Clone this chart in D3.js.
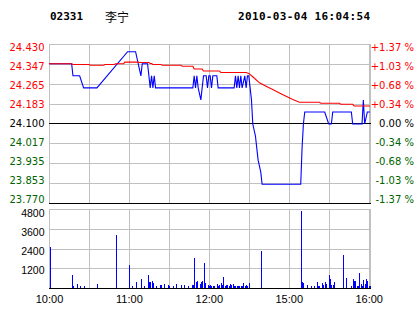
<!DOCTYPE html>
<html>
<head>
<meta charset="utf-8">
<script src="https://cdn.jsdelivr.net/npm/d3@7"></script>
<style>
body { margin:0; background:#fff; }
svg { display:block; }
</style>
</head>
<body>
<svg id="drawing_region"></svg>
<script>
// quote header
const stockCode = "02331";
const stockName = "李宁";
const quoteTime = "2010-03-04 16:04:54";

// axes
const timeLabels = ["10:00", "11:00", "12:00", "15:00", "16:00"];
const priceTicks = [24.430, 24.347, 24.265, 24.183, 24.100, 24.017, 23.935, 23.853, 23.770];
const percentTicks = ["+1.37 %", "+1.03 %", "+0.68 %", "+0.34 %", "0.00 %", "-0.34 %", "-0.68 %", "-1.03 %", "-1.37 %"];
const volumeTicks = [1200, 2400, 3600, 4800];
const prevClose = 24.100;

// minute price (blue)
const priceTimes = ["10:00","10:17","10:18","10:23","10:26","10:36","10:59","11:05","11:09","11:10",
    "11:14","11:16","11:17","11:18","11:19","11:20","11:48","11:49","11:50","11:51",
    "11:52","11:54","11:56","11:58","11:59","12:00","12:01","12:02","12:03","12:06",
    "12:07","12:19","12:20","12:21","12:22","12:23","12:24","12:25","12:27","12:28",
    "12:29","14:30","14:32","14:33","14:35","14:36","14:37","14:39","14:40","15:09",
    "15:10","15:11","15:12","15:27","15:30","15:32","15:33","15:47","15:48","15:55",
    "15:56","15:57","15:59","16:01"];
const prices = [24.35,24.35,24.30,24.30,24.25,24.25,24.40,24.40,24.30,24.35,
    24.35,24.25,24.30,24.25,24.30,24.25,24.25,24.30,24.25,24.30,
    24.25,24.20,24.30,24.30,24.25,24.30,24.30,24.25,24.30,24.30,
    24.25,24.25,24.30,24.25,24.30,24.25,24.30,24.25,24.30,24.25,
    24.30,24.30,24.20,24.10,24.05,24.00,23.95,23.90,23.85,23.85,
    24.00,24.10,24.15,24.15,24.10,24.10,24.15,24.15,24.10,24.10,
    24.20,24.10,24.15,24.15];

// average price (red)
const avgTimes = ["10:00","10:17","10:18","10:30","10:31","10:41","10:42","10:49","10:50","10:56",
    "10:57","11:07","11:08","11:15","11:16","11:17","11:18","11:24","11:25","11:39",
    "11:40","11:48","11:49","11:55","11:56","12:08","12:09","12:28","14:30","14:33",
    "14:38","14:43","14:48","14:53","14:58","15:03","15:08","15:23","15:24","15:38",
    "15:39","15:48","15:49","16:01"];
const avgPrices = [24.350,24.350,24.347,24.347,24.344,24.344,24.347,24.347,24.350,24.350,
    24.357,24.357,24.355,24.355,24.351,24.351,24.347,24.347,24.344,24.344,
    24.340,24.340,24.328,24.328,24.320,24.320,24.314,24.314,24.310,24.296,
    24.271,24.257,24.243,24.229,24.215,24.202,24.190,24.190,24.186,24.186,
    24.182,24.182,24.175,24.175];

// volume
const volumeTimes = ["10:01","10:17","10:18","10:21","10:23","10:26","10:36","10:50","11:00","11:02",
    "11:05","11:09","11:11","11:14","11:15","11:16","11:17","11:18","11:20","11:23",
    "11:24","11:26","11:29","11:30","11:33","11:35","11:39","11:41","11:44","11:47",
    "11:48","11:49","11:50","11:51","11:53","11:54","11:55","11:56","11:57","11:59",
    "12:00","12:01","12:02","12:03","12:04","12:06","12:07","12:08","12:09","12:10",
    "12:11","12:12","12:13","12:14","12:15","12:16","12:17","12:18","12:19","12:20",
    "12:21","12:22","12:23","12:24","12:25","12:26","12:27","12:28","12:29","14:30",
    "14:39","15:09","15:10","15:11","15:14","15:17","15:19","15:21","15:22","15:23",
    "15:25","15:26","15:27","15:28","15:30","15:31","15:32","15:33","15:34","15:41",
    "15:43","15:47","15:48","15:49","15:50","15:51","15:52","15:53","15:54","15:55",
    "15:56","15:57","15:58","15:59","16:00","16:01"];
const volumes = [2470,770,140,260,140,140,260,3240,1420,140,
    390,570,140,810,340,390,450,320,140,200,
    200,260,200,140,140,260,200,200,140,200,
    200,1840,390,450,260,390,450,1500,320,200,
    140,200,140,140,140,260,140,200,320,200,
    690,140,200,200,140,260,200,260,140,140,
    140,140,140,140,140,320,140,200,140,330,
    2270,4700,390,320,200,140,140,390,140,140,
    320,200,390,260,810,570,200,200,390,2030,
    630,140,570,450,450,140,140,930,260,140,
    510,260,570,450,140,140];

// 10:00-12:30 and 14:30-16:00 on one continuous minute axis
function minuteIndex( t ) {
    const [h, m] = t.split(':').map(Number);
    const v = (h - 10) * 60 + m;
    return v > 150 ? v - 120 : v;
}

class MinuteChart {

    constructor( config ) {
        this.config = {
            parent: config.parent,
            width: config.width || 414,
            height: config.height || 314,
            left: config.left,
            right: config.right,
            priceTop: config.priceTop,
            priceBottom: config.priceBottom,
            volumeTop: config.volumeTop,
            volumeBottom: config.volumeBottom
        };
        this.init();
    }

    init() {
        let self = this;
        const c = self.config;

        self.svg = d3.select( c.parent )
            .attr('width', c.width)
            .attr('height', c.height);

        self.xscale = d3.scaleLinear()
            .domain( [0, 241] )
            .range( [c.left, c.right] );

        const pext = d3.extent( priceTicks );
        self.yscale = d3.scaleLinear()
            .domain( pext )
            .range( [c.priceBottom, c.priceTop] );
        // labels sit a little inside the plot at both ends
        self.ylabel = d3.scaleLinear()
            .domain( pext )
            .range( [c.priceBottom - 3.6, c.priceTop + 3.5] );

        self.vscale = d3.scaleLinear()
            .domain( [0, d3.max(volumeTicks)] )
            .range( [c.volumeBottom, c.volumeTop] );
        self.vlabel = d3.scaleLinear()
            .domain( [0, d3.max(volumeTicks)] )
            .range( [c.volumeBottom + 1.2, c.volumeTop + 4.3] );
    }

    render() {
        let self = this;
        const c = self.config;
        const px = v => Math.round(v) + 0.5;
        const grid = '#c0c0c0';
        const labelColor = (d, i) => i < 4 ? '#ff0000' : (i == 4 ? '#000000' : '#006400');

        // header
        const head = self.svg.append('g')
            .attr('font-family', '"DejaVu Sans Mono", monospace')
            .attr('font-weight', 'bold')
            .attr('font-size', 11);
        head.append('text').attr('x', 50).attr('y', 16.5)
            .attr('dominant-baseline', 'central').text( stockCode );
        head.append('text').attr('x', 105).attr('y', 16.3)
            .attr('dominant-baseline', 'central')
            .attr('font-family', '"Noto Sans CJK SC", sans-serif')
            .attr('font-weight', 'normal').attr('font-size', 12)
            .text( stockName );
        head.append('text').attr('x', 238).attr('y', 16.5)
            .attr('dominant-baseline', 'central')
            .attr('textLength', 132).text( quoteTime );

        const gridTimes = d3.range(30, 241, 30);
        const g = self.svg.append('g')
            .attr('shape-rendering', 'crispEdges')
            .attr('fill', 'none')
            .attr('stroke-width', 1);

        // price panel grid
        g.selectAll('.pgx').data(gridTimes).join('line')
            .attr('x1', d => px(self.xscale(d))).attr('x2', d => px(self.xscale(d)))
            .attr('y1', c.priceTop).attr('y2', c.priceBottom)
            .attr('stroke', grid);
        g.selectAll('.pgy').data(priceTicks).join('line')
            .attr('x1', c.left).attr('x2', c.right)
            .attr('y1', d => px(self.yscale(d))).attr('y2', d => px(self.yscale(d)))
            .attr('stroke', grid);
        g.append('rect')
            .attr('x', px(c.left)).attr('y', px(c.priceTop))
            .attr('width', Math.round(c.right - c.left)).attr('height', Math.round(c.priceBottom - c.priceTop))
            .attr('stroke', grid);
        g.append('line')
            .attr('x1', c.left).attr('x2', c.right + 1)
            .attr('y1', px(self.yscale(prevClose))).attr('y2', px(self.yscale(prevClose)))
            .attr('stroke', '#000');
        g.append('line')
            .attr('x1', c.left).attr('x2', c.right + 1)
            .attr('y1', px(c.priceBottom)).attr('y2', px(c.priceBottom))
            .attr('stroke', '#000');

        // volume panel grid
        g.selectAll('.vgx').data(gridTimes).join('line')
            .attr('x1', d => px(self.xscale(d))).attr('x2', d => px(self.xscale(d)))
            .attr('y1', c.volumeTop).attr('y2', c.volumeBottom)
            .attr('stroke', grid);
        g.selectAll('.vgy').data(volumeTicks).join('line')
            .attr('x1', c.left).attr('x2', c.right)
            .attr('y1', d => px(self.vscale(d))).attr('y2', d => px(self.vscale(d)))
            .attr('stroke', grid);
        g.append('rect')
            .attr('x', px(c.left)).attr('y', px(c.volumeTop))
            .attr('width', Math.round(c.right - c.left)).attr('height', Math.round(c.volumeBottom - c.volumeTop))
            .attr('stroke', grid);

        // volume bars
        const bars = volumeTimes.map( (t, i) => ({ m: minuteIndex(t), v: volumes[i] }) );
        self.svg.append('g')
            .attr('shape-rendering', 'crispEdges')
            .attr('fill', '#0000ff')
            .selectAll('rect').data(bars).join('rect')
            .attr('x', d => Math.round(self.xscale(d.m)))
            .attr('y', d => self.vscale(d.v))
            .attr('width', 1)
            .attr('height', d => c.volumeBottom - self.vscale(d.v));
        self.svg.append('line')
            .attr('shape-rendering', 'crispEdges')
            .attr('x1', c.left).attr('x2', c.right + 1)
            .attr('y1', px(c.volumeBottom)).attr('y2', px(c.volumeBottom))
            .attr('stroke', '#000');

        // price and average lines
        const line = d3.line()
            .x( d => self.xscale(d[0]) )
            .y( d => self.yscale(d[1]) + 0.5 );
        self.svg.append('path')
            .datum( priceTimes.map( (t, i) => [minuteIndex(t), prices[i]] ) )
            .attr('d', line)
            .attr('fill', 'none')
            .attr('stroke', '#0000ff')
            .attr('stroke-width', 1.1);
        self.svg.append('path')
            .datum( avgTimes.map( (t, i) => [minuteIndex(t), avgPrices[i]] ) )
            .attr('d', line)
            .attr('fill', 'none')
            .attr('stroke', '#ff0000')
            .attr('stroke-width', 1.1);

        // price labels
        const lab = self.svg.append('g')
            .attr('font-family', '"DejaVu Sans", sans-serif')
            .attr('font-size', 10);
        lab.selectAll('.pl').data(priceTicks).join('text')
            .attr('x', 44.5)
            .attr('y', d => self.ylabel(d))
            .attr('text-anchor', 'end')
            .attr('dominant-baseline', 'central')
            .attr('fill', labelColor)
            .text( d => d3.format('.3f')(d) );
        lab.selectAll('.pr').data(percentTicks).join('text')
            .attr('x', 414)
            .attr('y', (d, i) => self.ylabel(priceTicks[i]))
            .attr('text-anchor', 'end')
            .attr('dominant-baseline', 'central')
            .attr('fill', labelColor)
            .text( d => d );

        // volume labels
        const vlab = self.svg.append('g')
            .attr('font-family', '"Liberation Sans", Arial, sans-serif')
            .attr('font-size', 10.5);
        vlab.selectAll('text').data(volumeTicks).join('text')
            .attr('x', 44.5)
            .attr('y', d => self.vlabel(d))
            .attr('text-anchor', 'end')
            .attr('dominant-baseline', 'central')
            .text( d => d );

        // time labels
        self.svg.append('g')
            .attr('font-family', '"Liberation Sans", Arial, sans-serif')
            .attr('font-size', 11)
            .selectAll('text').data(timeLabels).join('text')
            .attr('x', d => self.xscale(minuteIndex(d)) + 0.5)
            .attr('y', 298.5)
            .attr('text-anchor', 'middle')
            .attr('dominant-baseline', 'central')
            .text( d => d );
    }
}

const chart = new MinuteChart({
    parent: '#drawing_region',
    width: 414,
    height: 314,
    left: 49,
    right: 370,
    priceTop: 44,
    priceBottom: 203,
    volumeTop: 209,
    volumeBottom: 288
});
chart.render();
</script>
</body>
</html>
